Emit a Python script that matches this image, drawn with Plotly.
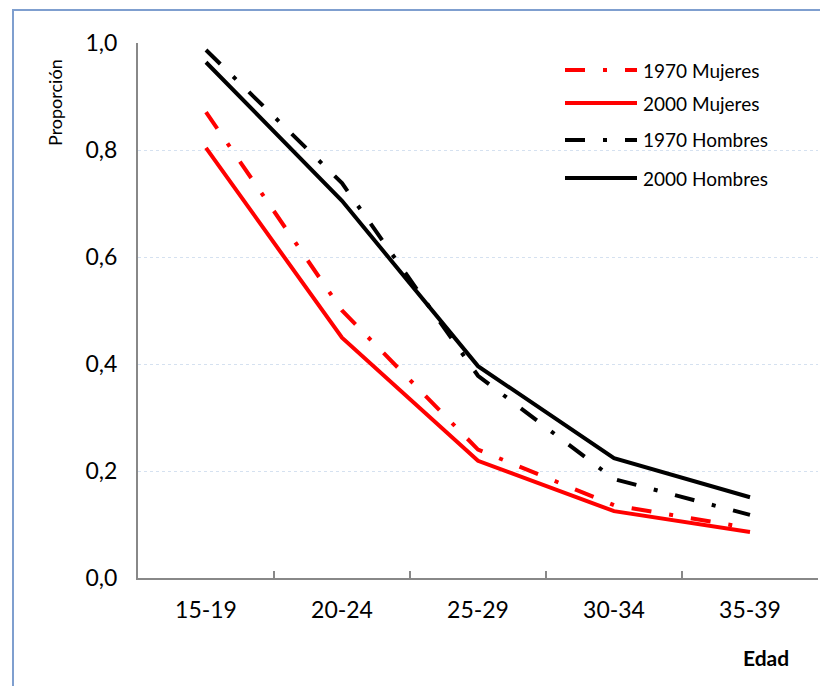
import plotly.graph_objects as go

edades = ["15-19", "20-24", "25-29", "30-34", "35-39"]
mujeres_1970 = [0.871, 0.500, 0.240, 0.136, 0.093]
mujeres_2000 = [0.804, 0.449, 0.219, 0.125, 0.086]
hombres_1970 = [0.987, 0.738, 0.378, 0.185, 0.118]
hombres_2000 = [0.964, 0.705, 0.396, 0.224, 0.151]

series = [
    ("1970 Mujeres", mujeres_1970, "#ff0000", "20px,18px,4px,18px"),
    ("2000 Mujeres", mujeres_2000, "#ff0000", "solid"),
    ("1970 Hombres", hombres_1970, "#000000", "20px,18px,4px,18px"),
    ("2000 Hombres", hombres_2000, "#000000", "solid"),
]

# page has an 8px body margin; work in page pixels and convert
OFF = 8
W, H = 828, 686
L, R, T, B = 138 - OFF, W - (818 - OFF), 43 - OFF, H - (578 - OFF)
pw, ph = W - L - R, H - T - B

def px_x(px):
    return (px - OFF - L) / pw

def px_y(py):
    return (H - B - (py - OFF)) / ph

fig = go.Figure()
for name, vals, color, dash in series:
    fig.add_trace(go.Scatter(x=edades, y=vals, mode="lines", name=name,
                             line=dict(color=color, width=4, dash=dash),
                             showlegend=False))

FONT = "Lato"
shapes = []
annotations = []
leg_y = [70, 103, 140, 178]
for (name, vals, color, dash), yy in zip(series, leg_y):
    shapes.append(dict(type="line", xref="paper", yref="paper",
                       x0=px_x(565), x1=px_x(637), y0=px_y(yy), y1=px_y(yy),
                       line=dict(color=color, width=4, dash=dash)))
    annotations.append(dict(text=name, xref="paper", yref="paper",
                            x=px_x(641), y=px_y(yy), xanchor="left", yanchor="middle",
                            showarrow=False, font=dict(family=FONT, size=19, color="#000")))

# figure border
shapes.append(dict(type="rect", xref="paper", yref="paper",
                   x0=px_x(13), x1=px_x(826), y0=px_y(690), y1=px_y(10),
                   line=dict(color="#7f9fcf", width=2), layer="below"))

annotations.append(dict(text="Proporción", xref="paper", yref="paper",
                        x=px_x(55), y=px_y(103), textangle=-90, showarrow=False,
                        xanchor="center", yanchor="middle",
                        font=dict(family=FONT, size=18, color="#000")))
annotations.append(dict(text="<b>Edad</b>", xref="paper", yref="paper",
                        x=px_x(766), y=px_y(657), showarrow=False,
                        xanchor="center", yanchor="middle",
                        font=dict(family=FONT, size=21, color="#000")))

fig.update_layout(
    width=W, height=H,
    margin=dict(l=L, r=R, t=T, b=B),
    paper_bgcolor="white", plot_bgcolor="white",
    separators=",.",
    font=dict(family=FONT, size=23, color="#000"),
    shapes=shapes, annotations=annotations,
    xaxis=dict(type="category", showline=True, linecolor="#888888", linewidth=2,
               ticks="inside", ticklen=7, tickcolor="#888888", tickwidth=2,
               tickson="boundaries", showgrid=False,
               tickfont=dict(family=FONT, size=23), ticklabelstandoff=10,
               range=[-0.5, 4.5]),
    yaxis=dict(range=[0, 1.0], dtick=0.2, tickformat=".1f", showline=True,
               linecolor="#888888", linewidth=2, ticks="",
               showgrid=True, gridcolor="#d5e1f0", griddash="dot", gridwidth=1,
               zeroline=False, tickfont=dict(family=FONT, size=23),
               ticklabelstandoff=14),
)

fig.write_html("out.html")
